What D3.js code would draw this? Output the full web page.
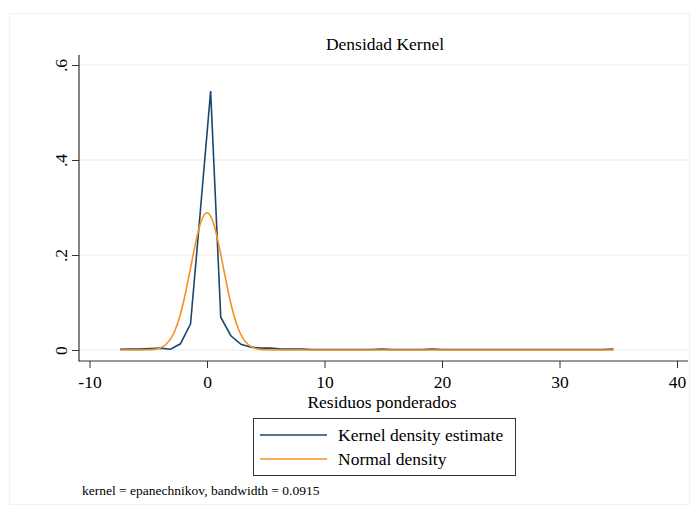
<!DOCTYPE html>
<html lang="es">
	<head>
		<meta charset="utf-8">
		<title>Densidad Kernel</title>
		<script src="https://d3js.org/d3.v7.min.js"></script>
		<style>
			body { margin: 0; background: #fff; }
			text { font-family: "Liberation Serif", "Times New Roman", serif; fill: #000; }
		</style>
	</head>
	<body>
		<script type="text/javascript">

			// size of svg
			var w = 699;
			var h = 514;

			// kernel density estimate (50 points)
			var kdX = [-7.40, -6.54, -5.69, -4.83, -3.97, -3.11, -2.26, -1.40, -0.54, 0.31,
				1.17, 2.03, 2.89, 3.74, 4.60, 5.46, 6.31, 7.17, 8.03, 8.89,
				9.74, 10.60, 11.46, 12.31, 13.17, 14.03, 14.89, 15.74, 16.60, 17.46,
				18.31, 19.17, 20.03, 20.89, 21.74, 22.60, 23.46, 24.31, 25.17, 26.03,
				26.89, 27.74, 28.60, 29.46, 30.31, 31.17, 32.03, 32.89, 33.74, 34.60];
			var kdY = [0.0015, 0.002, 0.002, 0.003, 0.004, 0.0015, 0.013, 0.055, 0.300, 0.545,
				0.069, 0.030, 0.012, 0.006, 0.004, 0.004, 0.002, 0.002, 0.002, 0.001,
				0.001, 0.001, 0.001, 0.001, 0.001, 0.001, 0.002, 0.001, 0.001, 0.001,
				0.001, 0.002, 0.001, 0.001, 0.001, 0.001, 0.001, 0.001, 0.001, 0.001,
				0.001, 0.001, 0.001, 0.001, 0.001, 0.001, 0.001, 0.001, 0.001, 0.002];

			// normal density
			var nX = [-7.4, -6, -5, -4.5, -4, -3.5, -3, -2.5, -2, -1.5, -1, -0.5, 0,
				0.5, 1, 1.5, 2, 2.5, 3, 3.5, 4, 4.5, 5, 6, 8, 34.6];
			var nY = [0, 0, 0.0004, 0.0014, 0.0043, 0.0116, 0.027, 0.056, 0.101, 0.160, 0.222, 0.271, 0.289,
				0.271, 0.222, 0.160, 0.101, 0.056, 0.027, 0.0116, 0.0043, 0.0014, 0.0004, 0, 0, 0];

			// ticks
			var xTicks = [-10, 0, 10, 20, 30, 40];
			var xTickLabels = ["-10", "0", "10", "20", "30", "40"];
			var yTicks = [0, 0.2, 0.4, 0.6];
			var yTickLabels = ["0", ".2", ".4", ".6"];

			var seriesNames = ["Kernel density estimate", "Normal density"];
			var seriesColors = ["#1a476f", "#f7901e"];

			var fs = 17.5;

			// plot region
			var pLeft = 79, pRight = 688, pTop = 55, pBottom = 361;

			var xScale = d3.scaleLinear().domain([-10, 40]).range([89.5, 677]);
			var yScale = d3.scaleLinear().domain([0, 0.6]).range([350, 65]);

			var svg = d3.select("body").append("svg").attr("width", w).attr("height", h);

			// faint outer frame
			svg.append("rect").attr("x", 9.5).attr("y", 13.5).attr("width", 680).attr("height", 491)
				.attr("fill", "none").attr("stroke", "#f1f1f1");

			// grid lines
			svg.append("g").selectAll("line").data(yTicks).enter().append("line")
				.attr("x1", pLeft).attr("x2", pRight)
				.attr("y1", function(d) { return yScale(d); })
				.attr("y2", function(d) { return yScale(d); })
				.attr("stroke", "#e6eef1").attr("stroke-width", 1.2);

			// axes
			var yAxis = d3.axisLeft(yScale).tickValues(yTicks).tickSize(7).tickSizeOuter(0)
				.tickFormat(function(d, i) { return yTickLabels[i]; });
			var xAxis = d3.axisBottom(xScale).tickValues(xTicks).tickSize(7).tickSizeOuter(0)
				.tickFormat(function(d, i) { return xTickLabels[i]; });

			var gy = svg.append("g").attr("transform", "translate(" + pLeft + ",0)").call(yAxis);
			gy.select(".domain").remove();
			gy.selectAll("line").attr("stroke", "#333");
			gy.selectAll("text")
				.attr("font-size", fs).attr("font-family", "Liberation Serif")
				.attr("x", 0).attr("dy", 0).attr("text-anchor", "middle")
				.attr("transform", "translate(-12,0) rotate(-90)");

			var gx = svg.append("g").attr("transform", "translate(0," + pBottom + ")").call(xAxis);
			gx.select(".domain").remove();
			gx.selectAll("line").attr("stroke", "#333");
			gx.selectAll("text").attr("font-size", fs).attr("font-family", "Liberation Serif")
				.attr("y", 15);

			svg.append("line").attr("x1", pLeft).attr("x2", pLeft).attr("y1", pTop).attr("y2", pBottom + 0.5)
				.attr("stroke", "#333").attr("stroke-width", 1.2);
			svg.append("line").attr("x1", pLeft).attr("x2", pRight).attr("y1", pBottom).attr("y2", pBottom)
				.attr("stroke", "#333").attr("stroke-width", 1.2);

			// lines
			var kdLine = d3.line()
				.x(function(d, i) { return xScale(kdX[i]); })
				.y(function(d) { return yScale(d); });
			var nLine = d3.line()
				.x(function(d, i) { return xScale(nX[i]); })
				.y(function(d) { return yScale(d); })
				.curve(d3.curveMonotoneX);

			svg.append("path").datum(kdY).attr("d", kdLine)
				.attr("fill", "none").attr("stroke", seriesColors[0]).attr("stroke-width", 1.6);
			svg.append("path").datum(nY).attr("d", nLine)
				.attr("fill", "none").attr("stroke", seriesColors[1]).attr("stroke-width", 1.6);

			// titles
			svg.append("text").attr("x", 385).attr("y", 50).attr("text-anchor", "middle")
				.attr("font-size", fs).text("Densidad Kernel");
			svg.append("text").attr("x", 382).attr("y", 408).attr("text-anchor", "middle")
				.attr("font-size", fs).text("Residuos ponderados");

			// legend
			var lg = svg.append("g");
			lg.append("rect").attr("x", 253.5).attr("y", 418.5).attr("width", 262).attr("height", 57)
				.attr("fill", "#fff").attr("stroke", "#333");
			var items = lg.selectAll("g.item").data(seriesNames).enter().append("g").attr("class", "item")
				.attr("transform", function(d, i) { return "translate(0," + (435 + i * 24) + ")"; });
			items.append("line").attr("x1", 260).attr("x2", 327).attr("y1", 0).attr("y2", 0)
				.attr("stroke", function(d, i) { return seriesColors[i]; }).attr("stroke-width", 1.6);
			items.append("text").attr("x", 338).attr("y", 6).attr("font-size", fs)
				.text(function(d) { return d; });

			// note
			svg.append("text").attr("x", 82).attr("y", 495).attr("font-size", 13.5)
				.text("kernel = epanechnikov, bandwidth = 0.0915");

		</script>
	</body>
</html>
